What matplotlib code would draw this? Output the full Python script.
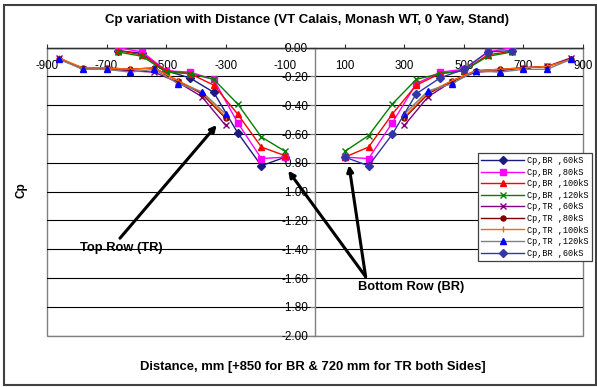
import matplotlib
matplotlib.use("Agg")
import matplotlib.pyplot as plt
import numpy as np
from matplotlib.ticker import FuncFormatter
from matplotlib.patches import Rectangle

plt.rcParams['font.family'] = ['Liberation Sans', 'DejaVu Sans']

# ---- data ----
br_x_left = [-660, -580, -500, -420, -340, -260, -180, -100]
br_x_right = [100, 180, 260, 340, 420, 500, 580, 660]
tr_x_left = [-860, -780, -700, -620, -540, -460, -380, -300]
tr_x_right = [300, 380, 460, 540, 620, 700, 780, 860]

br60_left = [-0.02, -0.04, -0.16, -0.21, -0.31, -0.59, -0.82, -0.76]
br60_right = [-0.76, -0.82, -0.60, -0.32, -0.21, -0.15, -0.03, -0.02]
br80_left = [0.00, -0.03, -0.16, -0.17, -0.22, -0.52, -0.77, -0.76]
br80_right = [-0.76, -0.77, -0.52, -0.25, -0.17, -0.15, -0.03, 0.00]
br100_left = [-0.02, -0.05, -0.16, -0.18, -0.26, -0.46, -0.69, -0.75]
br100_right = [-0.76, -0.69, -0.46, -0.26, -0.18, -0.16, -0.05, -0.025]
br120_left = [-0.03, -0.06, -0.17, -0.18, -0.22, -0.39, -0.62, -0.72]
br120_right = [-0.72, -0.61, -0.39, -0.22, -0.18, -0.16, -0.06, -0.03]

tr60_left = [-0.07, -0.15, -0.15, -0.16, -0.17, -0.24, -0.34, -0.54]
tr60_right = [-0.54, -0.34, -0.235, -0.17, -0.16, -0.14, -0.13, -0.07]
tr80_left = [-0.08, -0.14, -0.14, -0.15, -0.14, -0.23, -0.32, -0.49]
tr80_right = [-0.49, -0.32, -0.23, -0.16, -0.15, -0.14, -0.13, -0.08]
tr100_left = [-0.07, -0.14, -0.14, -0.15, -0.14, -0.23, -0.31, -0.48]
tr100_right = [-0.48, -0.31, -0.23, -0.16, -0.15, -0.14, -0.13, -0.08]
tr120_left = [-0.08, -0.15, -0.15, -0.17, -0.15, -0.25, -0.305, -0.46]
tr120_right = [-0.46, -0.30, -0.25, -0.16, -0.17, -0.15, -0.15, -0.08]

labels = ["Cp,BR ,60kS", "Cp,BR ,80kS", "Cp,BR ,100kS", "Cp,BR ,120kS",
          "Cp,TR ,60kS", "Cp,TR ,80kS", "Cp,TR ,100kS", "Cp,TR ,120kS",
          "Cp,BR ,60kS"]

y_ticks = [0.0, -0.2, -0.4, -0.6, -0.8, -1.0, -1.2, -1.4, -1.6, -1.8, -2.0]
x_ticks = [-900, -700, -500, -300, -100, 100, 300, 500, 700, 900]

title = "Cp variation with Distance (VT Calais, Monash WT, 0 Yaw, Stand)"
xlabel = "Distance, mm [+850 for BR & 720 mm for TR both Sides]"
ylabel = "Cp"

# ---- figure ----
W, H = 597, 387
fig = plt.figure(figsize=(W / 100, H / 100), dpi=100)
fig.patch.set_facecolor('white')

L, R, T, B = 47, 583, 47.7, 335.7
ax = fig.add_axes([L / W, 1 - B / H, (R - L) / W, (B - T) / H])
ax.set_xlim(-900, 900)
ax.set_ylim(-2.0, 0.0)

gap = [np.nan]


def join(xl, xr, yl, yr):
    return list(xl) + gap + list(xr), list(yl) + gap + list(yr)


nan8 = [np.nan] * 8

series = [
    (br_x_left, br_x_left, br60_left, nan8, dict(color='#1a1a80', marker='D', ms=3.6, mfc='#1a1a80', mec='#1a1a80')),
    (br_x_left, br_x_right, br80_left, br80_right, dict(color='#ff00ff', marker='s', ms=4.2, mfc='#ff00ff', mec='#ff00ff')),
    (br_x_left, br_x_right, br100_left, br100_right, dict(color='#ff0000', marker='^', ms=5.0, mfc='#ff0000', mec='#ff0000')),
    (br_x_left, br_x_right, br120_left, br120_right, dict(color='#008000', marker='x', ms=5.0, mew=1.0)),
    (tr_x_left, tr_x_right, tr60_left, tr60_right, dict(color='#800080', marker='x', ms=5.0, mew=1.0)),
    (tr_x_left, tr_x_right, tr80_left, tr80_right, dict(color='#800000', marker='o', ms=3.6, mfc='#800000', mec='#800000')),
    (tr_x_left, tr_x_right, tr100_left, tr100_right, dict(color='#ff6600', marker='|', ms=5.0, mew=1.0)),
    (tr_x_left, tr_x_right, tr120_left, tr120_right, dict(color='#808080', marker='^', ms=5.0, mfc='#0000ff', mec='#0000ff')),
    (br_x_right, br_x_right, nan8, br60_right, dict(color='#3535a5', marker='D', ms=3.6, mfc='#3535a5', mec='#3535a5')),
]

handles = []
for (xl, xr, yl, yr, st), lab in zip(series, labels):
    xs, ys = join(xl, xr, yl, yr)
    h, = ax.plot(xs, ys, lw=1.0, label=lab, zorder=3, **st)
    handles.append(h)

# grid / axes
ax.set_yticks(y_ticks)
ax.set_xticks(x_ticks)
ax.yaxis.grid(True, color='black', lw=0.8, zorder=0)
ax.xaxis.grid(False)


def yfmt(v, p):
    if abs(v) < 1e-9:
        return "0.00"
    return f"{v:.2f}"


ax.yaxis.set_major_formatter(FuncFormatter(yfmt))
ax.xaxis.set_major_formatter(FuncFormatter(lambda v, p: f"{v:.0f}"))

for s in ['top', 'right']:
    ax.spines[s].set_visible(False)
ax.spines['left'].set_position(('data', 0))
ax.spines['bottom'].set_position(('data', 0))
ax.spines['left'].set_color('#808080')
ax.spines['bottom'].set_color('#303030')
ax.spines['left'].set_linewidth(1.0)
ax.spines['bottom'].set_linewidth(1.0)
ax.add_patch(Rectangle((0, 0), 1, 1, transform=ax.transAxes, fill=False,
                       edgecolor='#808080', lw=1.0, zorder=1, clip_on=False))

ax.tick_params(axis='y', direction='out', length=3.5, width=0.8, color='#808080',
               labelsize=8.5, pad=1.5, labelcolor='black')
ax.tick_params(axis='x', direction='in', length=3, width=0.8, color='#303030',
               labelsize=8.3, pad=8.5, labelcolor='black')
for lbl in ax.get_yticklabels():
    lbl.set_horizontalalignment('right')

# titles
fig.text(307 / W, 1 - 20 / H, title, ha='center', va='center', fontsize=9.5, fontweight='bold')
fig.text(313 / W, 1 - 367 / H, xlabel, ha='center', va='center', fontsize=9.4, fontweight='bold')
fig.text(21 / W, 1 - 190 / H, ylabel, ha='center', va='center', fontsize=8.5, fontweight='bold', rotation=90)

# annotations
arrow = dict(arrowstyle='-|>', lw=2.2, color='black', mutation_scale=9, shrinkA=0, shrinkB=0)
ax.annotate("", xy=(-330, -0.537), xytext=(-655, -1.323), arrowprops=arrow, zorder=5)
ax.annotate("", xy=(-90, -0.854), xytext=(170, -1.59), arrowprops=arrow, zorder=5)
ax.annotate("", xy=(114, -0.815), xytext=(170, -1.59), arrowprops=arrow, zorder=5)
ax.text(-788, -1.391, "Top Row (TR)", ha='left', va='center', fontsize=9.3, fontweight='bold', zorder=6)
ax.text(144, -1.66, "Bottom Row (BR)", ha='left', va='center', fontsize=9.3, fontweight='bold', zorder=6)

# legend
leg = fig.legend(handles=handles, labels=labels, loc='upper left',
                 bbox_to_anchor=(478 / W, 1 - 153 / H), bbox_transform=fig.transFigure,
                 prop={'family': 'Liberation Mono', 'size': 6.2}, frameon=True, fancybox=False,
                 framealpha=1, edgecolor='#404040', handlelength=5.0, handletextpad=0.35,
                 labelspacing=0.3, borderpad=0.35, borderaxespad=0)
leg.get_frame().set_linewidth(0.9)

# outer border
fig.patches.append(Rectangle((4 / W, 2 / H), 592 / W, 380 / H, transform=fig.transFigure,
                             fill=False, edgecolor='#404040', lw=1.5))

fig.savefig("out.png", dpi=100)
